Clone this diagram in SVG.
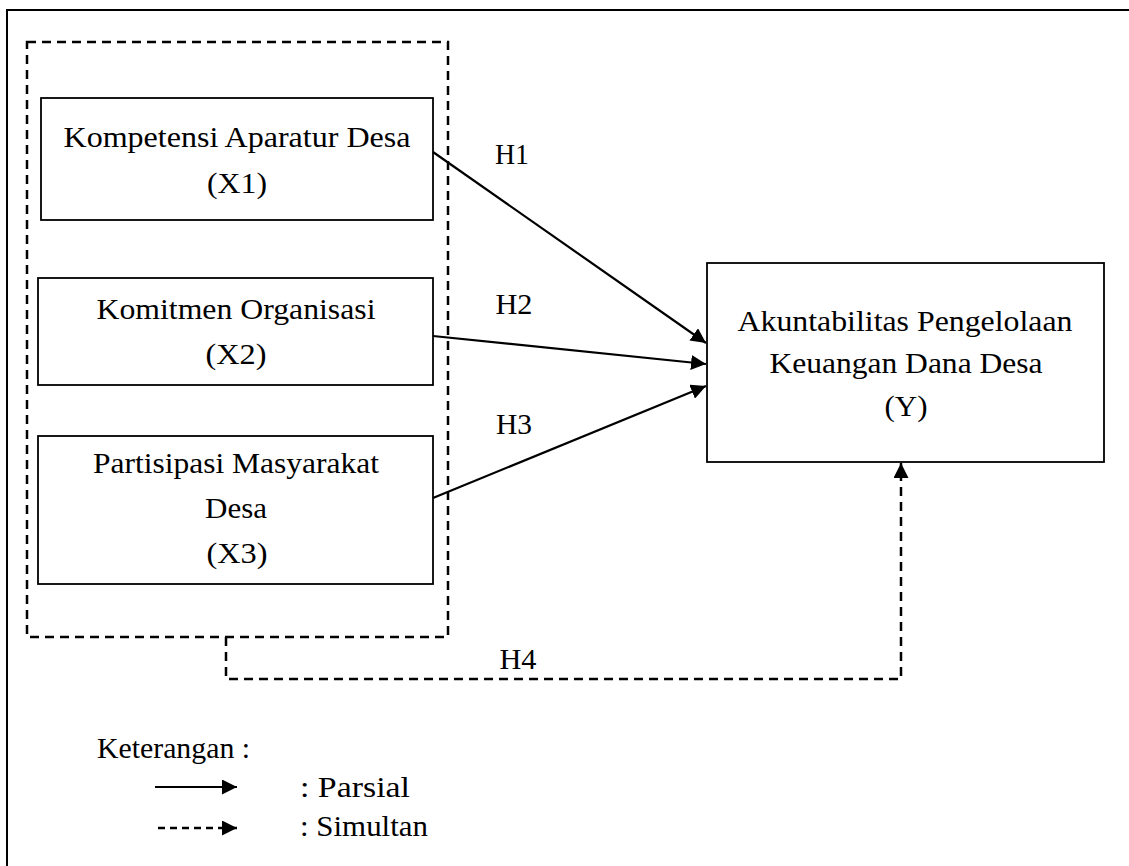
<svg xmlns="http://www.w3.org/2000/svg" width="1129" height="866" viewBox="0 0 1129 866">
<style>
.t{font-family:"Liberation Serif","Times New Roman",serif;font-size:30px;fill:#000;text-anchor:middle}
.tl{font-family:"Liberation Serif","Times New Roman",serif;font-size:30px;fill:#000}
.box{fill:#fff;stroke:#000;stroke-width:1.8}
.solid{fill:none;stroke:#000;stroke-width:2.2}
.dash{fill:none;stroke:#000;stroke-width:2.5;stroke-dasharray:9 6}
</style>
<defs>
<marker id="ah" markerUnits="userSpaceOnUse" markerWidth="16" markerHeight="15" refX="15" refY="7.5" orient="auto">
<path d="M0,0 L15,7.5 L0,15 z" fill="#000"/>
</marker>
</defs>
<rect width="1129" height="866" fill="#fff"/>
<g id="frame">
<path d="M1129,10 L7,10 L7,866" fill="none" stroke="#000" stroke-width="2"/>
</g>
<g id="group-x">
<rect x="27" y="42" width="421" height="595" class="dash"/>
</g>
<g id="x1">
<rect x="41" y="98" width="392" height="122" class="box"/>
<text class="t" x="237" y="147" textLength="347" lengthAdjust="spacingAndGlyphs">Kompetensi Aparatur Desa</text>
<text class="t" x="237" y="193" textLength="60" lengthAdjust="spacingAndGlyphs">(X1)</text>
</g>
<g id="x2">
<rect x="38" y="278" width="395" height="107" class="box"/>
<text class="t" x="236" y="319" textLength="279" lengthAdjust="spacingAndGlyphs">Komitmen Organisasi</text>
<text class="t" x="236" y="364" textLength="61" lengthAdjust="spacingAndGlyphs">(X2)</text>
</g>
<g id="x3">
<rect x="38" y="436" width="395" height="148" class="box"/>
<text class="t" x="236" y="473" textLength="286" lengthAdjust="spacingAndGlyphs">Partisipasi Masyarakat</text>
<text class="t" x="236" y="518" textLength="62" lengthAdjust="spacingAndGlyphs">Desa</text>
<text class="t" x="237" y="563" textLength="61" lengthAdjust="spacingAndGlyphs">(X3)</text>
</g>
<g id="y">
<rect x="707" y="263" width="397" height="199" class="box"/>
<text class="t" x="905" y="331" textLength="335" lengthAdjust="spacingAndGlyphs">Akuntabilitas Pengelolaan</text>
<text class="t" x="906" y="373" textLength="273" lengthAdjust="spacingAndGlyphs">Keuangan Dana Desa</text>
<text class="t" x="906" y="416" textLength="43" lengthAdjust="spacingAndGlyphs">(Y)</text>
</g>
<g id="connectors">
<line x1="433" y1="152" x2="706" y2="343" class="solid" marker-end="url(#ah)"/>
<line x1="433" y1="336" x2="706" y2="364" class="solid" marker-end="url(#ah)"/>
<line x1="433" y1="498" x2="706" y2="386" class="solid" marker-end="url(#ah)"/>
<path d="M226,637 L226,679 L901,679 L901,463" class="dash" marker-end="url(#ah)"/>
<text class="t" x="512" y="164" textLength="34" lengthAdjust="spacingAndGlyphs">H1</text>
<text class="t" x="514" y="314" textLength="37" lengthAdjust="spacingAndGlyphs">H2</text>
<text class="t" x="514" y="434" textLength="36" lengthAdjust="spacingAndGlyphs">H3</text>
<text class="t" x="518" y="669" textLength="37" lengthAdjust="spacingAndGlyphs">H4</text>
</g>
<g id="legend">
<text class="tl" x="97" y="758" textLength="153" lengthAdjust="spacingAndGlyphs">Keterangan :</text>
<line x1="155" y1="787" x2="237" y2="787" class="solid" marker-end="url(#ah)"/>
<line x1="158" y1="828" x2="237" y2="828" fill="none" stroke="#000" stroke-width="2.5" stroke-dasharray="7 5" marker-end="url(#ah)"/>
<text class="tl" x="300" y="797" textLength="110" lengthAdjust="spacingAndGlyphs">: Parsial</text>
<text class="tl" x="300" y="836" textLength="128" lengthAdjust="spacingAndGlyphs">: Simultan</text>
</g>
</svg>
